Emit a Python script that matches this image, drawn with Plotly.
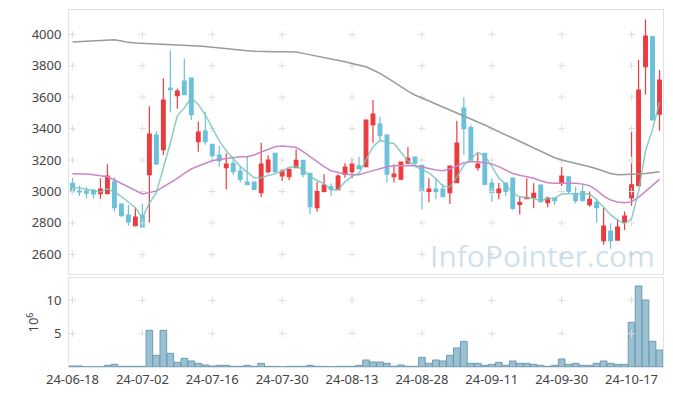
import plotly.graph_objects as go

dates = ["24-06-18","24-06-19","24-06-20","24-06-21","24-06-24","24-06-25","24-06-26","24-06-27","24-06-28",
         "24-07-01","24-07-02","24-07-03","24-07-04","24-07-05","24-07-08","24-07-09","24-07-10","24-07-11","24-07-12",
         "24-07-15","24-07-16","24-07-17","24-07-18","24-07-19","24-07-22","24-07-23","24-07-24","24-07-25","24-07-26",
         "24-07-29","24-07-30","24-07-31",
         "24-08-01","24-08-02","24-08-05","24-08-06","24-08-07","24-08-08","24-08-09","24-08-12","24-08-13","24-08-14",
         "24-08-16","24-08-19","24-08-20","24-08-21","24-08-22","24-08-23","24-08-26","24-08-27","24-08-28","24-08-29","24-08-30",
         "24-09-02","24-09-03","24-09-04","24-09-05","24-09-06","24-09-09","24-09-10","24-09-11","24-09-12","24-09-13",
         "24-09-19","24-09-20","24-09-23","24-09-24","24-09-25","24-09-26","24-09-27","24-09-30",
         "24-10-02","24-10-04","24-10-07","24-10-08","24-10-10","24-10-11","24-10-14","24-10-15","24-10-16","24-10-17",
         "24-10-18","24-10-21","24-10-22","24-10-23"]

open_ = [3052,3003,3003,3007,2986,2986,3062,2920,2850,2782,2846,3107,3359,3266,3658,3610,3703,3722,3317,3385,
         3300,3232,3151,3179,3130,3060,3060,2992,3126,3243,3100,3094,3151,3198,3115,2897,3000,3030,3011,3109,
         3126,3164,3158,3425,3429,3359,3094,3079,3181,3219,3166,3000,3016,3016,2992,3056,3531,3406,3151,3243,
         3054,2992,3054,3086,2918,2954,2963,3041,2929,2958,3052,3094,2984,3000,2916,2929,2687,2748,2691,2806,
         2960,3037,3794,3985,3493]
high = [3088,3037,3030,3016,3084,3173,3090,2925,2914,2897,2924,3542,3383,3720,3898,3656,3847,3724,3446,3508,
        3302,3289,3243,3221,3158,3228,3062,3310,3230,3245,3141,3147,3268,3200,3117,3062,3109,3052,3109,3179,
        3211,3221,3458,3582,3476,3362,3173,3190,3283,3221,3168,3084,3084,3047,3164,3451,3599,3423,3243,3245,
        3084,3054,3056,3088,2967,3084,3052,3043,2967,2960,3156,3096,3030,3047,3000,2956,2897,2797,2827,2873,
        3385,3837,4095,3987,3773]
low = [2988,2971,2956,2956,2954,2984,2873,2840,2782,2778,2772,2803,3168,3230,3504,3527,3614,3453,3253,3298,
       3200,3158,3014,3105,3056,3041,3009,2963,3115,3115,3067,3071,3149,3090,2857,2873,2994,2971,3009,3088,
       3084,3143,3155,3311,3327,3058,3058,3073,3175,3158,2886,2931,2950,2963,2920,3054,3232,3198,3132,3043,
       2935,2950,2971,2882,2854,2952,2893,2929,2899,2914,3035,2988,2924,2939,2903,2803,2661,2636,2689,2755,
       2910,3035,3618,3453,3387]
close = [2999,2997,2990,2984,3016,3098,2897,2846,2806,2837,2774,3366,3175,3582,3648,3639,3616,3489,3378,3317,
         3228,3196,3175,3126,3077,3043,3014,3175,3200,3126,3130,3141,3198,3109,2903,3000,3041,3011,3098,3156,
         3175,3145,3455,3493,3355,3111,3111,3187,3211,3181,3000,3016,3000,2967,3162,3308,3400,3200,3175,3045,
         2992,3016,3000,2893,2929,2963,2988,2935,2958,2941,3098,3000,2941,2941,2950,2897,2780,2687,2774,2844,
         3043,3646,3989,3455,3709]

ma5 = [3025,3022,3014,3005,2997,3017,2997,2968,2933,2897,2832,2926,2992,3147,3309,3482,3532,3595,3554,3488,
       3406,3322,3259,3208,3160,3123,3087,3087,3102,3112,3129,3154,3159,3141,3096,3070,3050,3013,3011,3061,
       3096,3117,3206,3285,3325,3312,3305,3251,3195,3160,3138,3119,3082,3033,3029,3091,3167,3207,3249,3226,
       3162,3086,3046,2989,2966,2960,2955,2942,2955,2957,2984,2986,2988,2984,2986,2946,2902,2851,2818,2796,
       2826,2999,3259,3395,3568]
ma20 = [3113,3113,3111,3107,3100,3094,3073,3052,3028,3005,2984,2994,3003,3030,3056,3084,3115,3143,3162,3179,
        3196,3204,3211,3217,3221,3221,3232,3251,3268,3285,3289,3285,3281,3253,3221,3190,3158,3132,3120,3111,
        3107,3107,3120,3132,3147,3158,3164,3166,3166,3164,3158,3147,3137,3132,3143,3162,3183,3190,3190,3183,
        3175,3158,3137,3115,3103,3094,3084,3069,3056,3052,3052,3052,3052,3047,3037,3009,2971,2946,2933,2929,
        2935,2963,3000,3041,3077]
ma60 = [3951,3953,3955,3958,3960,3964,3966,3958,3949,3945,3943,3943,3941,3938,3938,3936,3932,3930,3926,3922,
        3917,3913,3909,3904,3900,3896,3892,3890,3890,3890,3890,3890,3888,3879,3871,3862,3854,3845,3837,3826,
        3815,3805,3794,3773,3752,3724,3695,3667,3639,3614,3595,3576,3557,3538,3518,3501,3480,3465,3444,3423,
        3402,3381,3359,3338,3317,3296,3274,3253,3232,3215,3200,3190,3179,3168,3158,3145,3130,3115,3107,3107,
        3107,3111,3115,3120,3126]

volume_m = [0.15,0.15,0.03,0.03,0.03,0.25,0.4,0.1,0.1,0.1,0.1,5.5,1.75,5.5,2.05,0.7,1.3,0.9,0.55,0.3,
            0.15,0.25,0.25,0.1,0.1,0.25,0.1,0.55,0.1,0.1,0.03,0.1,0.1,0.1,0.25,0.1,0.1,0.03,0.1,0.1,
            0.1,0.25,1.05,0.75,0.75,0.55,0.1,0.3,0.1,0.1,1.45,0.55,1.05,0.9,1.75,2.85,3.85,0.55,0.55,0.25,
            0.4,0.7,0.25,0.9,0.55,0.55,0.4,0.25,0.1,0.25,1.2,0.4,0.55,0.25,0.25,0.55,0.9,0.55,0.4,0.4,
            6.7,12.15,10.05,3.85,2.55]

price_ticks = [2600, 2800, 3000, 3200, 3400, 3600, 3800, 4000]
vol_ticks = [5, 10]
x_ticks = dates[::10]

UP = "#ec3b3e"
DOWN = "#6cc0da"
FONT = "Noto Sans"

fig = go.Figure()

fig.add_trace(go.Bar(x=dates, y=volume_m, xaxis="x2", yaxis="y2",
                     marker=dict(color="#9bc0d2", line=dict(color="#6a9cb4", width=1)),
                     showlegend=False))

# grid "+" markers at tick intersections
gx = [d for d in x_ticks for _ in price_ticks]
gy = [p for _ in x_ticks for p in price_ticks]
fig.add_trace(go.Scatter(x=gx, y=gy, mode="markers", xaxis="x", yaxis="y",
                         marker=dict(symbol="cross-thin", size=5, line=dict(color="#dddddd", width=1)),
                         hoverinfo="skip", showlegend=False))
vx = [d for d in x_ticks for _ in vol_ticks]
vy = [v for _ in x_ticks for v in vol_ticks]
fig.add_trace(go.Scatter(x=vx, y=vy, mode="markers", xaxis="x2", yaxis="y2",
                         marker=dict(symbol="cross-thin", size=5, line=dict(color="#dddddd", width=1)),
                         hoverinfo="skip", showlegend=False))

fig.add_trace(go.Scatter(x=dates, y=ma60, mode="lines", line=dict(color="#9a9a9a", width=1.5),
                         xaxis="x", yaxis="y", showlegend=False))
fig.add_trace(go.Scatter(x=dates, y=ma20, mode="lines", line=dict(color="#c987c9", width=1.5),
                         xaxis="x", yaxis="y", showlegend=False))

fig.add_trace(go.Candlestick(x=dates, open=open_, high=high, low=low, close=close,
                             increasing=dict(line=dict(color=UP, width=1.2), fillcolor=UP),
                             decreasing=dict(line=dict(color=DOWN, width=1.2), fillcolor=DOWN),
                             whiskerwidth=0, xaxis="x", yaxis="y", showlegend=False))

fig.add_trace(go.Scatter(x=dates, y=ma5, mode="lines", line=dict(color="rgba(120,196,184,0.85)", width=1.5),
                         xaxis="x", yaxis="y", showlegend=False))

axis_line = "#e3e3e3"
fig.update_layout(
    width=657, height=380,
    margin=dict(l=61, r=2, t=2, b=21),
    paper_bgcolor="white", plot_bgcolor="white",
    font=dict(family=FONT, size=13, color="#444"),
    showlegend=False, bargap=0.05, boxgap=0.25,
    xaxis=dict(type="category", categoryorder="array", categoryarray=dates,
               range=[-0.5, 84.5], anchor="y", matches="x2",
               showticklabels=False, showgrid=False, zeroline=False,
               showline=True, mirror=True, linecolor=axis_line, linewidth=1,
               rangeslider=dict(visible=False), ticks="", automargin=False),
    yaxis=dict(domain=[0.2605, 1.0], range=[2475, 4155], tickvals=price_ticks,
               showgrid=False, zeroline=False, showline=True, mirror=True,
               linecolor=axis_line, linewidth=1, ticks="", ticklabelstandoff=4, automargin=False),
    xaxis2=dict(type="category", categoryorder="array", categoryarray=dates,
                range=[-0.5, 84.5], anchor="y2", tickangle=0,
                tickvals=x_ticks, ticktext=x_ticks, showgrid=False, zeroline=False,
                showline=True, mirror=True, linecolor=axis_line, linewidth=1, ticks="", automargin=False),
    yaxis2=dict(domain=[0.0, 0.2493], range=[0, 13.35], tickvals=vol_ticks,
                showgrid=False, zeroline=False, showline=True, mirror=True,
                linecolor=axis_line, linewidth=1, ticks="", ticklabelstandoff=4, automargin=False),
)

fig.add_annotation(text="10<sup>6</sup>", textangle=-90, xref="paper", yref="paper",
                   x=-0.062, y=0.125, xanchor="center", yanchor="middle", showarrow=False,
                   font=dict(size=13, color="#444", family=FONT))
fig.add_annotation(text="InfoPointer.com", xref="paper", yref="paper", x=0.99, y=0.311,
                   xanchor="right", yanchor="middle", showarrow=False,
                   font=dict(size=30, color="rgba(165,198,218,0.55)", family="Open Sans"))

fig.write_html("out.html")
